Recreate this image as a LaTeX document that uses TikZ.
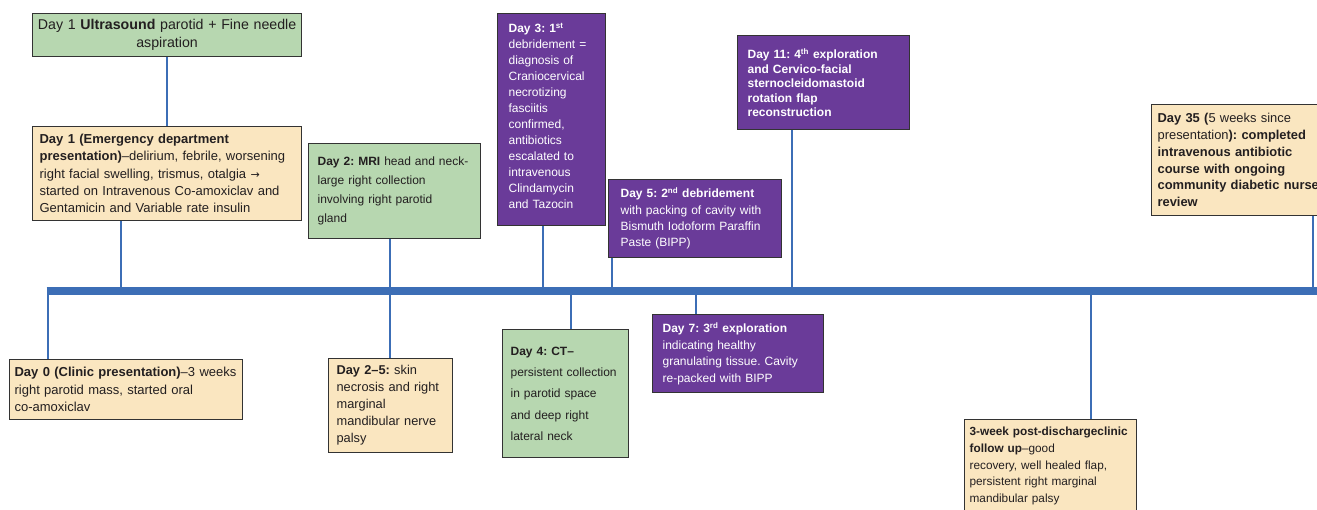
\documentclass[tikz,border=0pt]{standalone}
\usepackage{fontspec}
\setmainfont{Liberation Sans}
\newfontfamily\dvfont{DejaVu Sans}
\frenchspacing
\newcommand\myfs[2]{\fontsize{#1}{#2}\selectfont}
\definecolor{gfill}{HTML}{B7D7B0}
\definecolor{yfill}{HTML}{FAE6C0}
\definecolor{pfill}{HTML}{6A3B99}
\definecolor{tlblue}{HTML}{3C6EB6}
\definecolor{bordercol}{HTML}{333333}
\definecolor{txt}{HTML}{231F20}
\tikzset{
  box/.style={draw=bordercol, line width=1.2pt, anchor=north west, align=left, inner ysep=3pt, text=txt},
  gbox/.style={box, fill=gfill},
  ybox/.style={box, fill=yfill},
  pbox/.style={box, fill=pfill, text=white},
  conn/.style={draw=tlblue, line width=2.6pt},
  tline/.style={draw=tlblue, line width=8pt},
}
\begin{document}
\begin{tikzpicture}[x=1pt,y=-1pt]
\useasboundingbox (0,0) rectangle (1317,509);
\clip (0,0) rectangle (1317,509);
\fill[white] (0,0) rectangle (1317,509);

% timeline coordinates
\coordinate (tl0) at (48,291);
\coordinate (tl1) at (121,291);
\coordinate (tl2) at (390,291);
\coordinate (tl3) at (543,291);
\coordinate (tl4) at (571,291);
\coordinate (tl5) at (612,291);
\coordinate (tl7) at (696,291);
\coordinate (tl11) at (792,291);
\coordinate (tlw) at (1091,291);
\coordinate (tl35) at (1313,291);
\coordinate (tlL) at (46.7,291);
\coordinate (tlR) at (1320,291);

% boxes
\node[gbox, align=center, text width=261pt, inner xsep=4pt, minimum height=43pt, font=\myfs{14.2}{18}] (us) at (32,13)
  {Day 1 \textbf{Ultrasound} parotid + Fine needle\\aspiration};
\node[ybox, text width=255pt, inner xsep=7pt, minimum height=94pt, font=\myfs{13}{17.3}] (ed) at (32,126)
  {\textbf{Day 1 (Emergency department}\\\textbf{presentation)}–delirium, febrile, worsening\\right facial swelling, trismus, otalgia {\dvfont\fontsize{11}{11}\selectfont →}\\started on Intravenous Co-amoxiclav and\\Gentamicin and Variable rate insulin};
\node[gbox, text width=154pt, inner xsep=9pt, minimum height=95pt, font=\myfs{12}{19}] (mri) at (308,143)
  {\textbf{Day 2: MRI} head and neck-\\large right collection\\involving right parotid\\gland};
\node[pbox, text width=86pt, inner xsep=11pt, font=\myfs{12}{16}] (d3) at (497,13)
  {\rule{0pt}{16pt}\textbf{Day 3: 1\textsuperscript{st}}\\debridement =\\diagnosis of\\Craniocervical\\necrotizing\\fasciitis\\confirmed,\\antibiotics\\escalated to\\intravenous\\Clindamycin\\and Tazocin\rule[-14pt]{0pt}{1pt}};
\node[pbox, text width=149pt, inner xsep=12pt, minimum height=78pt, font=\myfs{12}{16.3}] (d5) at (608,179)
  {\textbf{Day 5: 2\textsuperscript{nd} debridement}\\with packing of cavity with\\Bismuth Iodoform Paraffin\\Paste (BIPP)};
\node[pbox, text width=152pt, inner xsep=10pt, minimum height=94pt, font=\myfs{12}{14.4}\bfseries] (d11) at (737,35)
  {Day 11: 4\textsuperscript{th} exploration\\and Cervico-facial\\sternocleidomastoid\\rotation flap\\reconstruction};
\node[ybox, text width=178pt, inner xsep=6pt, minimum height=111pt, font=\myfs{12.9}{16.7}] (d35) at (1151,104)
  {\textbf{Day 35 (}5 weeks since\\presentation\textbf{): completed}\\\textbf{intravenous antibiotic}\\\textbf{course with ongoing}\\\textbf{community diabetic nurse}\\\textbf{review}};
\node[ybox, text width=223pt, inner xsep=5pt, minimum height=60pt, font=\myfs{13}{17.3}] (d0) at (9,359)
  {\textbf{Day 0 (Clinic presentation)}–3 weeks\\right parotid mass, started oral\\co-amoxiclav};
\node[ybox, text width=108pt, inner xsep=8pt, minimum height=94pt, font=\myfs{12.8}{17}] (d25) at (328,358)
  {\textbf{Day 2–5:} skin\\necrosis and right\\marginal\\mandibular nerve\\palsy};
\node[gbox, text width=110pt, inner xsep=8pt, minimum height=128pt, font=\myfs{12}{21.3}] (d4) at (502,329)
  {\textbf{Day 4: CT–}\\persistent collection\\in parotid space\\and deep right\\lateral neck};
\node[pbox, text width=151pt, inner xsep=10pt, minimum height=78pt, font=\myfs{12}{16.7}] (d7) at (652,314)
  {\textbf{Day 7: 3\textsuperscript{rd} exploration}\\indicating healthy\\granulating tissue. Cavity\\re-packed with BIPP};
\node[ybox, text width=162pt, inner xsep=5pt, font=\myfs{11.8}{16.7}] (wk3) at (964,419)
  {\rule{0pt}{13pt}\textbf{3-week post-dischargeclinic}\\\textbf{follow up}–good\\recovery, well healed flap,\\persistent right marginal\\mandibular palsy\rule[-30pt]{0pt}{1pt}};

% connectors
\draw[conn] (us.south) -- (ed.north);
\draw[conn] (ed.south -| tl1) -- (tl1);
\draw[conn] (mri.south -| tl2) -- (d25.north -| tl2);
\draw[conn] (d3.south -| tl3) -- (tl3);
\draw[conn] (tl4) -- (d4.north -| tl4);
\draw[conn] (d5.south -| tl5) -- (tl5);
\draw[conn] (tl7) -- (d7.north -| tl7);
\draw[conn] (d11.south -| tl11) -- (tl11);
\draw[conn] (tlw) -- (wk3.north -| tlw);
\draw[conn] (tl35) -- (tl35 |- d35.south);
\draw[conn] (tl0) -- (d0.north -| tl0);
% timeline
\draw[tline] (tlL) -- (tlR);
\end{tikzpicture}
\end{document}
